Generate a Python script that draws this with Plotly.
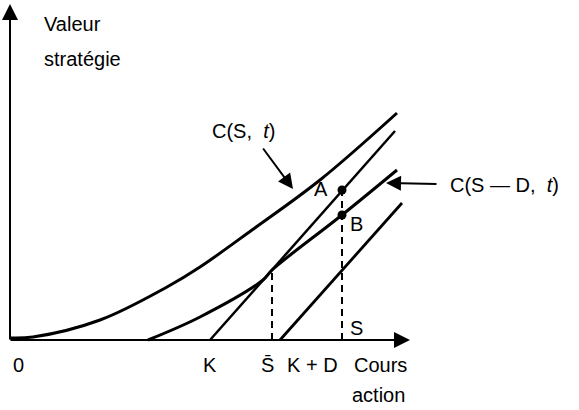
import plotly.graph_objects as go

# Schematic values (x = stock price, y = strategy value)
call_x = [0, 23, 90, 157, 190, 242, 310, 387]
call_y = [2, 3, 20, 53, 73, 110, 160, 227]

call_div_x = [138, 190, 253, 262, 332, 387]
call_div_y = [0, 23, 60, 70, 125, 170]

intrinsic_x = [200, 385]          # S - K
intrinsic_y = [0, 209]

intrinsic_div_x = [270, 392]      # S - K - D
intrinsic_div_y = [0, 137]

s_bar_x, s_bar_y = 262, 70
s_x = 332
point_a_y = 150
point_b_y = 125

tick_labels = {"0": 8, "K": 200, "S\u0304": 257, "K + D": 302, "Cours": 370}

FONT = dict(family="Liberation Sans, Arial, sans-serif", size=20, color="black")

fig = go.Figure()
fig.add_trace(go.Scatter(x=call_x, y=call_y, mode="lines",
                         line=dict(color="black", width=3, shape="spline"), hoverinfo="skip"))
fig.add_trace(go.Scatter(x=call_div_x, y=call_div_y, mode="lines",
                         line=dict(color="black", width=3, shape="spline"), hoverinfo="skip"))
fig.add_trace(go.Scatter(x=intrinsic_x, y=intrinsic_y, mode="lines",
                         line=dict(color="black", width=2.5), hoverinfo="skip"))
fig.add_trace(go.Scatter(x=intrinsic_div_x, y=intrinsic_div_y, mode="lines",
                         line=dict(color="black", width=2.8), hoverinfo="skip"))
# dashed verticals
fig.add_trace(go.Scatter(x=[s_bar_x, s_bar_x], y=[0, s_bar_y], mode="lines",
                         line=dict(color="black", width=2, dash="7px,5px"), hoverinfo="skip"))
fig.add_trace(go.Scatter(x=[s_x, s_x], y=[0, point_a_y], mode="lines",
                         line=dict(color="black", width=2, dash="7px,5px"), hoverinfo="skip"))
# points A and B
fig.add_trace(go.Scatter(x=[s_x, s_x], y=[point_a_y, point_b_y], mode="markers",
                         marker=dict(color="black", size=9), hoverinfo="skip"))

ann = []
# axes with arrows
ann.append(dict(x=0, y=336, ax=0, ay=-1, xref="x", yref="y", axref="x", ayref="y",
                text="", showarrow=True, arrowhead=2, arrowsize=1.6, arrowwidth=2, arrowcolor="black"))
ann.append(dict(x=400, y=0, ax=-1, ay=0, xref="x", yref="y", axref="x", ayref="y",
                text="", showarrow=True, arrowhead=2, arrowsize=1.6, arrowwidth=2, arrowcolor="black"))
# label arrows
ann.append(dict(x=283, y=151, ax=252, ay=193, xref="x", yref="y", axref="x", ayref="y",
                text="", showarrow=True, arrowhead=2, arrowsize=1.5, arrowwidth=2, arrowcolor="black"))
ann.append(dict(x=376, y=157, ax=428, ay=156, xref="x", yref="y", axref="x", ayref="y",
                text="", showarrow=True, arrowhead=2, arrowsize=1.5, arrowwidth=2, arrowcolor="black"))

texts = [
    ("Valeur", 32, 316, "left"),
    ("stratégie", 32, 281, "left"),
    ("C(S,  <i>t</i>)", 233, 209, "center"),
    ("C(S — D,  <i>t</i>)", 494, 155, "center"),
    ("A", 311, 151, "center"),
    ("B", 346, 116, "center"),
    ("S", 346, 12, "center"),
    ("action", 368, -55, "center"),
]
for label, xpos in tick_labels.items():
    texts.append((label, xpos, -25, "center"))
for t, x, y, xa in texts:
    ann.append(dict(x=x, y=y, xref="x", yref="y", text=t, showarrow=False,
                    xanchor=xa, yanchor="middle", font=FONT))

fig.update_layout(
    width=579, height=410,
    margin=dict(l=0, r=0, t=0, b=0),
    paper_bgcolor="white", plot_bgcolor="white",
    showlegend=False,
    xaxis=dict(range=[-10, 569], visible=False, fixedrange=True),
    yaxis=dict(range=[-70, 340], visible=False, fixedrange=True),
    annotations=ann,
)
fig.write_html("out.html", config={"displayModeBar": False},
               post_script="document.body.style.margin='0';document.body.style.overflow='hidden';")
